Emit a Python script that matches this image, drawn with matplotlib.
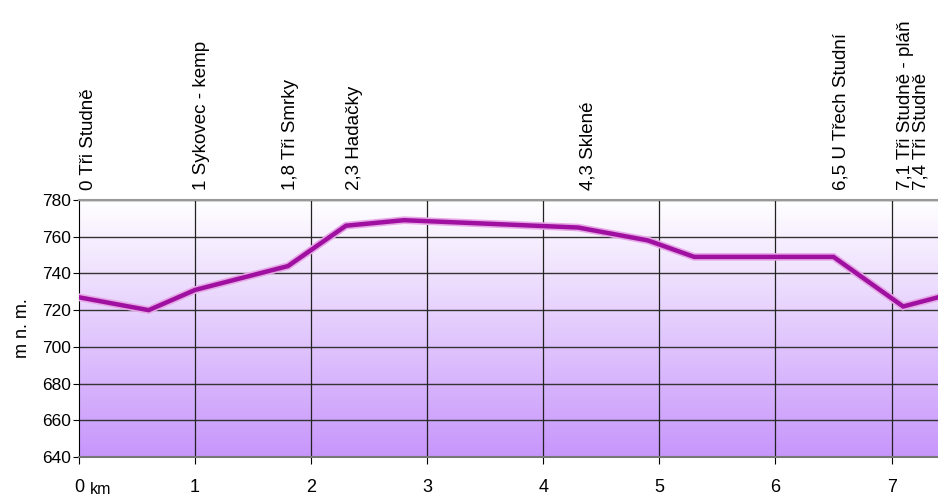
import numpy as np
import matplotlib
matplotlib.use("Agg")
import matplotlib.pyplot as plt
from matplotlib.colors import LinearSegmentedColormap

plt.rcParams['font.family'] = ['Liberation Sans', 'DejaVu Sans']

# profile data
km = [0.0, 0.6, 1.0, 1.8, 2.3, 2.8, 4.3, 4.9, 5.3, 6.5, 7.1, 7.4]
elev = [727, 720, 731, 744, 766, 769, 765, 758, 749, 749, 722, 727]

# waypoint labels
wp_km = [0, 1, 1.8, 2.3, 4.3, 6.5, 7.1, 7.4]
wp_names = ["0 Tři Studně", "1 Sykovec - kemp", "1,8 Tři Smrky", "2,3 Hadačky",
            "4,3 Sklené", "6,5 U Třech Studní", "7,1 Tři Studně - pláň", "7,4 Tři Studně"]
wp_dx = [9, 6, 3, 9, 10, 7, 2, -17]  # pixel nudges

xticks = [0, 1, 2, 3, 4, 5, 6, 7]
yticks = [640, 660, 680, 700, 720, 740, 760, 780]

W, H = 938, 497
fig = plt.figure(figsize=(W/100, H/100), dpi=100)
L, R, T, B = 79, 938, 200, 457
ax = fig.add_axes([L/W, 1-B/H, (R-L)/W, (B-T)/H])

# gradient background (white at top -> lilac at bottom)
cmap = LinearSegmentedColormap.from_list("g", ["#FFFFFF", "#C796FB"])
grad = np.linspace(0, 1, 256).reshape(-1, 1)
ax.imshow(grad, cmap=cmap, aspect='auto', origin='upper',
          extent=[0, 7.4, 640, 780], zorder=0)

ax.set_xlim(0, 7.4)
ax.set_ylim(640, 780)

for y in yticks:
    ax.axhline(y, color='#333333', lw=1.0, zorder=1)
for x in xticks[1:]:
    ax.axvline(x, color='#222222', lw=0.9, zorder=1)

ax.plot(km, elev, color='#E6A8E6', lw=5.5, solid_joinstyle='miter', zorder=3)
ax.plot(km, elev, color='#A010A0', lw=3.2, solid_joinstyle='miter', zorder=4)

ax.set_xticks(xticks)
ax.set_xticklabels([str(t) for t in xticks], fontsize=13)
ax.set_yticks(yticks)
ax.set_yticklabels([str(t) for t in yticks], fontsize=12.5)
ax.tick_params(axis='x', direction='out', length=5, pad=11, color='black')
ax.tick_params(axis='y', direction='out', length=4, pad=2, color='black')

ax.spines['right'].set_visible(False)
ax.spines['top'].set_color('#999999')
ax.spines['top'].set_linewidth(1.5)
ax.spines['left'].set_color('black')
ax.spines['bottom'].set_color('#777777')
ax.spines['bottom'].set_linewidth(1.5)

ax.set_ylabel("m n. m.", fontsize=13, labelpad=8)
ax.text(0.09, -0.125, "km", transform=ax.get_xaxis_transform(), fontsize=11.5,
        ha='left', va='center')

for x, name, dx in zip(wp_km, wp_names, wp_dx):
    ax.annotate(name, xy=(x, 1.0), xycoords=('data', 'axes fraction'),
                xytext=(dx*0.72, 10*0.72), textcoords='offset points',
                rotation=90, ha='center', va='bottom', fontsize=13.5,
                annotation_clip=False)

fig.savefig("out.png", dpi=100)
